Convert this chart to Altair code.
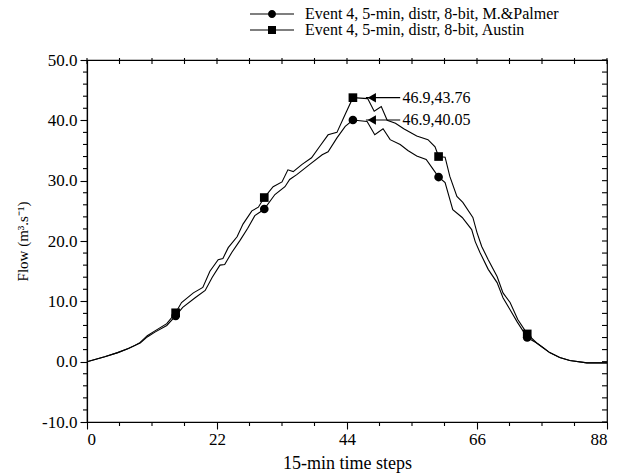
import altair as alt
import pandas as pd

SERIES = ["Event 4, 5-min, distr, 8-bit, M.&Palmer", "Event 4, 5-min, distr, 8-bit, Austin"]

mp_step = [0, 3, 5.2, 7, 8.1, 9, 10.2, 11.5, 13.5, 15, 16.2, 18.3, 20, 21.2, 22.5, 23.3, 24.5, 25.9,
           27.2, 28.4, 29.3, 30, 31.8, 33.5, 34.3, 35.5, 37.7, 39.8, 40.8, 42.3, 43.7, 45, 47.4, 48.7,
           50.1, 51.3, 53, 54.3, 55.8, 57.4, 58.5, 59.5, 60.6, 61.9, 63.5, 65.1, 65.7, 66.5, 67.9, 69.4,
           70.4, 71.6, 72.8, 74.5, 76.1, 77.2, 78.3, 80, 81.7, 84.6, 88]
mp_flow = [0, 0.8, 1.5, 2.2, 2.7, 3.1, 4.1, 4.9, 6.0, 7.6, 9.0, 10.6, 11.8, 14.0, 16.0, 16.1, 18.1, 20.1,
           22.1, 24.2, 24.8, 25.3, 27.7, 29.0, 30.2, 31.0, 32.7, 34.3, 34.8, 37.1, 39.0, 40.05, 39.8, 37.6,
           38.6, 36.8, 36.0, 35.0, 34.1, 33.5, 32.0, 30.6, 29.7, 25.2, 23.9, 21.9, 19.9, 18.1, 15.3, 13.1,
           10.6, 8.6, 6.6, 4.0, 3.1, 2.3, 1.5, 0.7, 0.2, -0.2, -0.2]

au_step = [0, 3, 5.2, 7, 8.1, 9, 10.2, 11.5, 13.5, 15, 16, 18, 19.6, 20.8, 22.2, 23, 23.9, 25.4, 26.4,
           27.9, 29, 30, 31.5, 33, 34, 34.9, 36.4, 38, 39.4, 40.8, 42.3, 43.7, 45, 47.5, 48.6, 49.8, 50.8,
           52.2, 53.6, 55.8, 57.7, 58.9, 59.5, 60.6, 61.4, 62.6, 63.6, 65.3, 66, 66.8, 67.9, 69.4, 70.4,
           71.6, 72.9, 74.5, 76.1, 77.2, 78.3, 80, 81.7, 84.6, 88]
au_flow = [0, 0.8, 1.5, 2.2, 2.7, 3.2, 4.3, 5.1, 6.3, 8.1, 9.8, 11.4, 12.3, 15.0, 16.9, 17.1, 18.9, 20.7, 22.8,
           25.0, 25.6, 27.2, 29.0, 29.8, 31.8, 31.5, 32.7, 33.8, 35.7, 37.6, 38.0, 41.0, 43.76, 43.6, 41.5, 42.3, 40.0,
           39.5, 38.6, 37.4, 36.8, 35.6, 34.0, 33.9, 30.7, 27.4, 26.4, 23.9, 21.4, 19.1, 16.9, 14.1, 11.4,
           9.8, 7.0, 4.6, 3.1, 2.3, 1.5, 0.7, 0.2, -0.2, -0.2]

mk_step = [15, 30, 45, 59.5, 74.5]
mk_mp = [7.6, 25.3, 40.05, 30.6, 4.0]
mk_au = [8.1, 27.2, 43.76, 34.0, 4.6]

ann_label = ["46.9,43.76", "46.9,40.05"]
ann_flow = [43.76, 40.05]
ann_tip = [47.2, 47.2]
ann_tail = [53.0, 53.0]
ann_head = [48.2, 48.2]
ann_text_x = [53.4, 53.4]

x_major = [0, 22, 44, 66, 88]
x_minor = [5.5, 11, 16.5, 27.5, 33, 38.5, 49.5, 55, 60.5, 71.5, 77, 82.5]
y_major = [-10, 0, 10, 20, 30, 40, 50]
y_minor = [-8, -6, -4, -2, 2, 4, 6, 8, 12, 14, 16, 18, 22, 24, 26, 28,
           32, 34, 36, 38, 42, 44, 46, 48]

FONT = "Liberation Serif"
W, H = 520, 362

lines = pd.concat([
    pd.DataFrame({"step": mp_step, "flow": mp_flow, "series": SERIES[0], "i": range(len(mp_step))}),
    pd.DataFrame({"step": au_step, "flow": au_flow, "series": SERIES[1], "i": range(len(au_step))}),
])
mk_c = pd.DataFrame({"step": mk_step, "flow": mk_mp})
mk_s = pd.DataFrame({"step": mk_step, "flow": mk_au})
leg = pd.DataFrame({"step": [mk_step[0], mk_step[0]], "flow": [mk_mp[0], mk_au[0]], "series": SERIES})
ann = pd.DataFrame({"label": ann_label, "flow": ann_flow, "tip": ann_tip, "tail": ann_tail,
                    "head": ann_head, "tx": ann_text_x})
xt_min = pd.DataFrame({"step": x_minor})
xt_all = pd.DataFrame({"step": x_major + x_minor})
yt_min = pd.DataFrame({"flow": y_minor})
yt_all = pd.DataFrame({"flow": y_major + y_minor})

xscale = alt.Scale(domain=[0, 88], nice=False, zero=False)
yscale = alt.Scale(domain=[-10, 50], nice=False, zero=False)

xaxis = alt.Axis(values=x_major, format="d", grid=False, title="15-min time steps",
                 tickSize=7, labelPadding=2, titlePadding=7, labelOverlap=False,
                 labelFontSize=17, titleFontSize=18)
yaxis = alt.Axis(values=y_major, grid=False, title="Flow (m³.s⁻¹)",
                 labelExpr="datum.value < 0 ? '-' + format(-datum.value, '.1f') : format(datum.value, '.1f')",
                 tickSize=7, labelPadding=3, titlePadding=11, labelOverlap=False,
                 labelFontSize=17, titleFontSize=15)

X = alt.X("step:Q", scale=xscale, axis=xaxis)
Y = alt.Y("flow:Q", scale=yscale, axis=yaxis)

line_layer = alt.Chart(lines).mark_line(color="black", strokeWidth=1.1).encode(
    x=X, y=Y, detail="series:N", order="i:Q")
circ_layer = alt.Chart(mk_c).mark_point(shape="circle", filled=True, color="black", size=75, opacity=1).encode(x="step:Q", y="flow:Q")
sq_layer = alt.Chart(mk_s).mark_point(shape="square", filled=True, color="black", size=75, opacity=1).encode(x="step:Q", y="flow:Q")

# legend symbols: short horizontal bar on both sides of the marker
PATH_C = ("M-5.5,-0.14L-0.95,-0.14L-0.95,0.14L-5.5,0.14Z"
          "M0.95,-0.14L5.5,-0.14L5.5,0.14L0.95,0.14Z"
          "M1,0A1,1,0,1,1,-1,0A1,1,0,1,1,1,0Z")
PATH_S = ("M-5.5,-0.14L-1,-0.14L-1,0.14L-5.5,0.14Z"
          "M1,-0.14L5.5,-0.14L5.5,0.14L1,0.14Z"
          "M-1,-1L1,-1L1,1L-1,1Z")
leg_layer = alt.Chart(leg).mark_point(filled=True, color="black", opacity=0).encode(
    x="step:Q", y="flow:Q",
    shape=alt.Shape("series:N", scale=alt.Scale(domain=SERIES, range=[PATH_C, PATH_S]),
                    legend=alt.Legend(orient="none", legendX=177, legendY=-54, title=None,
                                      symbolSize=64, symbolOpacity=1, symbolFillColor="black",
                                      labelFont=FONT, labelFontSize=16, labelColor="black",
                                      labelOffset=25, rowPadding=0, padding=0, labelLimit=500)))

arrow_rule = alt.Chart(ann).mark_rule(color="black", strokeWidth=1.1).encode(
    x="tip:Q", x2="tail:Q", y="flow:Q")
arrow_head = alt.Chart(ann).mark_point(shape="triangle-left", filled=True, color="black", size=90, opacity=1).encode(
    x="head:Q", y="flow:Q")
ann_text = alt.Chart(ann).mark_text(align="left", baseline="middle", font=FONT, fontSize=16, color="black").encode(
    x="tx:Q", y="flow:Q", text="label:N")

# minor ticks outside bottom / left; mirrored ticks inside top / right
tick_style = dict(color="black", strokeWidth=1.1)
bot_minor = alt.Chart(xt_min).mark_rule(**tick_style).encode(
    x="step:Q", y=alt.value(H), y2=alt.value(H + 4))
left_minor = alt.Chart(yt_min).mark_rule(**tick_style).encode(
    y="flow:Q", x=alt.value(0), x2=alt.value(-4))
top_ticks = alt.Chart(xt_all).mark_rule(**tick_style).encode(
    x="step:Q", y=alt.value(-2), y2=alt.value(4))
right_ticks = alt.Chart(yt_all).mark_rule(**tick_style).encode(
    y="flow:Q", x=alt.value(W), x2=alt.value(W - 5))

chart = alt.layer(line_layer, circ_layer, sq_layer, leg_layer, arrow_rule, arrow_head, ann_text,
                  bot_minor, left_minor, top_ticks, right_ticks).properties(
    width=W, height=H,
    autosize=alt.AutoSizeParams(type="none"),
    padding={"left": 87, "top": 60, "right": 21, "bottom": 54},
    background="white",
).configure_view(stroke="black", strokeWidth=1.2).configure_axis(
    domainColor="black", tickColor="black", labelColor="black", titleColor="black",
    labelFont=FONT, titleFont=FONT, titleFontWeight="normal", domainWidth=1.2, tickWidth=1.1,
)

chart.save("out.html", embed_options={"renderer": "svg", "actions": False})
